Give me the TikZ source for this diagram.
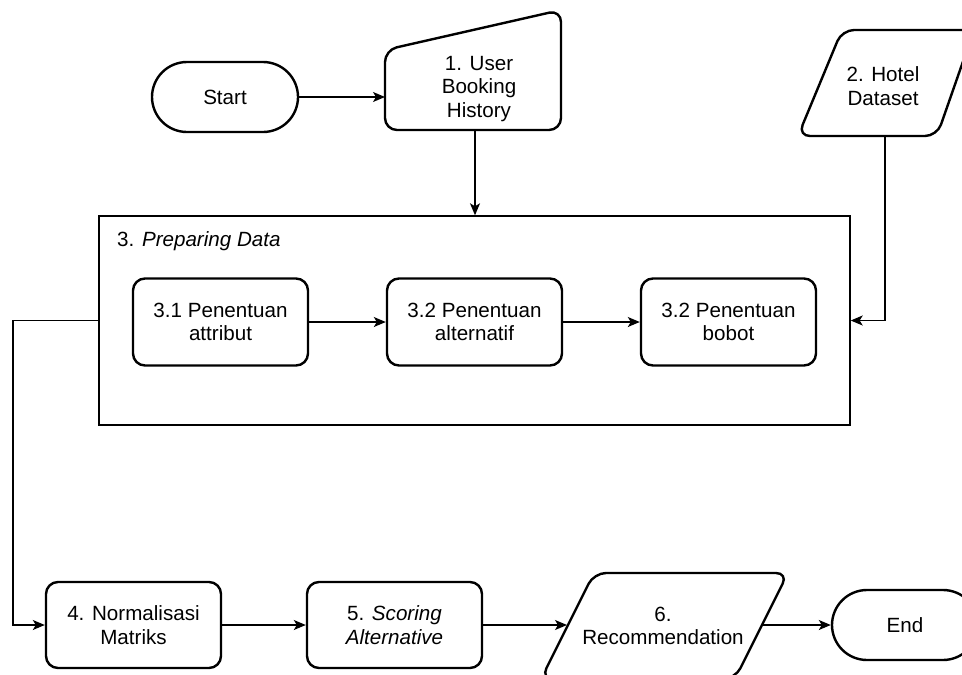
\documentclass[tikz,border=0pt]{standalone}
\usepackage{fontspec}
\setmainfont{Liberation Sans}
\usetikzlibrary{arrows.meta}
\begin{document}
\begin{tikzpicture}[x=1pt,y=-1pt,
  font=\fontsize{20.6}{23.5}\selectfont,
  shp/.style={draw, line width=2.4pt, rounded corners=12pt},
  proc/.style={shp, minimum width=175pt, minimum height=87pt, align=center, inner sep=0pt},
  term/.style={draw, line width=2.4pt, rounded corners=35pt, minimum width=146pt, minimum height=70pt, inner sep=0pt},
  txt/.style={align=center, inner sep=0pt},
  conn/.style={line width=1.3pt, -{Stealth[length=12pt,width=10pt,inset=3pt]}},
  frame/.style={draw, line width=1.4pt, inner sep=0pt}]
\useasboundingbox (0,0) rectangle (962,675);
\clip (0,0) rectangle (962,675);

% Start
\node[term] (start) at (225,97) {Start};

% 1. User Booking History (manual input)
\draw[shp] (385,130) -- (385,50) -- (561,10) -- (561,130) -- cycle;
\node[txt] (ubh) at (479,89) {1. User\\Booking\\History};
\coordinate (ubhL) at (385,97);
\coordinate (ubhB) at (475,130);

% 2. Hotel Dataset (data)
\draw[shp] (798,136) -- (842,30) -- (974,30) -- (937,136) -- cycle;
\node[txt] (hd) at (883,86) {2. Hotel\\Dataset};
\coordinate (hdB) at (885,136);

% 3. Preparing Data frame
\node[frame, minimum width=751pt, minimum height=209pt] (prep) at (474.5,320.5) {};
\node[anchor=west, inner sep=0pt] (preplabel) at (117,241) {3. \textit{Preparing Data}};

\node[proc] (p31) at (220.5,322) {3.1 Penentuan\\attribut};
\node[proc] (p32) at (474.5,322) {3.2 Penentuan\\alternatif};
\node[proc] (p33) at (728.5,322) {3.2 Penentuan\\bobot};

% bottom row
\node[proc, minimum height=86pt] (norm) at (133.5,625) {4. Normalisasi\\Matriks};
\node[proc, minimum height=86pt] (score) at (394.5,625) {5. \textit{Scoring}\\\textit{Alternative}};

\draw[shp] (541,679) -- (594,573) -- (788,573) -- (735,679) -- cycle;
\node[txt] (rec) at (663,626) {6.\\Recommendation};
\coordinate (recL) at (567,625);
\coordinate (recR) at (761,625);

\node[term] (end) at (905,625) {End};

% connectors
\draw[conn] (start) -- (ubhL);
\draw[conn] (ubhB) -- (ubhB |- prep.north);
\draw[conn] (hdB) |- (prep.east);
\draw[conn] (p31) -- (p32);
\draw[conn] (p32) -- (p33);
\draw[conn] (prep.west) -- (13,320.5) |- (norm.west);
\draw[conn] (norm) -- (score);
\draw[conn] (score) -- (recL);
\draw[conn] (recR) -- (end.west);
\end{tikzpicture}
\end{document}
